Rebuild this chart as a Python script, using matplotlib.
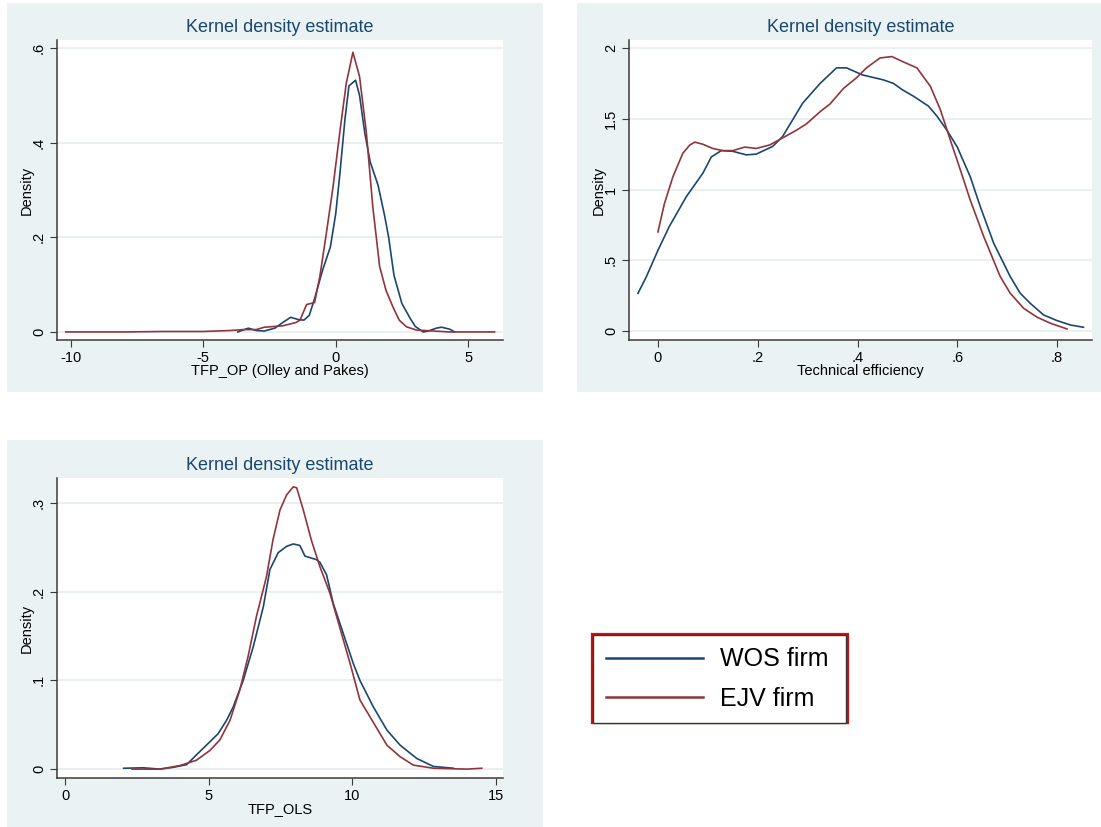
import matplotlib
matplotlib.use("Agg")
import matplotlib.pyplot as plt
from matplotlib.patches import Rectangle

plt.rcParams["font.family"] = ["Liberation Sans", "DejaVu Sans"]

NAVY = "#1a476f"
MAROON = "#90353b"
BG = "#eaf2f3"
GRID = "#e6eef0"
AXCOL = "#3a3a3a"

# TFP_OP (Olley and Pakes)
op_wos_x = [-3.7, -3.3, -3.0, -2.7, -2.3, -2.0, -1.7, -1.4, -1.2, -1.0, -0.8, -0.5, -0.2,
            0.0, 0.15, 0.35, 0.5, 0.75, 0.9, 1.1, 1.3, 1.6, 1.85, 2.0, 2.2, 2.5, 2.8,
            3.0, 3.3, 3.5, 3.8, 4.0, 4.3, 4.5]
op_wos_y = [0.0, 0.008, 0.003, 0.002, 0.008, 0.02, 0.031, 0.026, 0.025, 0.035, 0.07, 0.13, 0.18,
            0.25, 0.33, 0.45, 0.52, 0.532, 0.5, 0.42, 0.36, 0.31, 0.245, 0.2, 0.12, 0.06, 0.03,
            0.012, 0.0, 0.002, 0.008, 0.01, 0.006, 0.0]
op_ejv_x = [-10.2, -8.0, -6.5, -5.0, -4.0, -3.5, -3.0, -2.7, -2.0, -1.5, -1.35, -1.1, -0.8,
            -0.6, -0.35, -0.1, 0.15, 0.4, 0.65, 0.9, 1.16, 1.4, 1.66, 1.9, 2.16, 2.4, 2.67,
            3.05, 3.7, 4.3, 6.0]
op_ejv_y = [0.0, 0.0, 0.001, 0.001, 0.003, 0.005, 0.005, 0.01, 0.013, 0.02, 0.025, 0.058, 0.062,
            0.117, 0.21, 0.307, 0.42, 0.526, 0.591, 0.54, 0.42, 0.265, 0.138, 0.088, 0.053, 0.025, 0.011,
            0.004, 0.002, 0.0, 0.0]

# Technical efficiency
te_wos_x = [-0.04, -0.023, 0.0, 0.023, 0.057, 0.09, 0.107, 0.127, 0.15, 0.177, 0.197, 0.23,
            0.25, 0.29, 0.325, 0.358, 0.378, 0.41, 0.452, 0.472, 0.49, 0.512, 0.542, 0.559,
            0.579, 0.6, 0.626, 0.646, 0.673, 0.706, 0.726, 0.746, 0.773, 0.8, 0.827, 0.853]
te_wos_y = [0.266, 0.385, 0.57, 0.74, 0.95, 1.115, 1.23, 1.275, 1.27, 1.245, 1.25, 1.305,
            1.375, 1.61, 1.75, 1.86, 1.86, 1.81, 1.775, 1.75, 1.705, 1.66, 1.59, 1.52,
            1.42, 1.30, 1.09, 0.88, 0.62, 0.385, 0.267, 0.196, 0.113, 0.073, 0.042, 0.026]
te_ejv_x = [0.0, 0.013, 0.03, 0.05, 0.064, 0.074, 0.09, 0.11, 0.13, 0.15, 0.174, 0.197, 0.224,
            0.25, 0.278, 0.298, 0.325, 0.345, 0.372, 0.398, 0.418, 0.445, 0.469, 0.49, 0.519,
            0.546, 0.566, 0.586, 0.606, 0.626, 0.653, 0.686, 0.706, 0.733, 0.76, 0.787, 0.82]
te_ejv_y = [0.70, 0.9, 1.09, 1.257, 1.315, 1.335, 1.32, 1.29, 1.275, 1.275, 1.30, 1.29, 1.315,
            1.365, 1.42, 1.465, 1.55, 1.605, 1.715, 1.79, 1.86, 1.93, 1.94, 1.905, 1.86,
            1.73, 1.565, 1.35, 1.14, 0.925, 0.667, 0.385, 0.267, 0.16, 0.097, 0.054, 0.014]

# TFP_OLS
ols_wos_x = [2.04, 2.72, 3.3, 3.76, 4.23, 4.57, 4.92, 5.33, 5.62, 5.85, 6.2, 6.55, 6.9, 7.13,
             7.42, 7.71, 7.94, 8.17, 8.35, 8.75, 8.87, 9.1, 9.33, 9.68, 10.03, 10.26, 10.73,
             11.2, 11.66, 12.24, 12.82, 13.51]
ols_wos_y = [0.001, 0.0015, 0.0, 0.002, 0.005, 0.016, 0.027, 0.04, 0.055, 0.07, 0.1, 0.138, 0.183, 0.225,
             0.244, 0.251, 0.2537, 0.252, 0.24, 0.236, 0.233, 0.219, 0.187, 0.153, 0.119, 0.1, 0.07,
             0.044, 0.027, 0.012, 0.003, 0.001]
ols_ejv_x = [2.33, 3.3, 4.0, 4.57, 5.04, 5.39, 5.74, 6.08, 6.37, 6.66, 7.01, 7.24, 7.48, 7.71,
             7.94, 8.06, 8.29, 8.58, 8.87, 9.22, 9.45, 9.92, 10.26, 10.61, 11.2, 11.66, 12.12,
             12.82, 13.98, 14.5]
ols_ejv_y = [0.0, 0.0, 0.004, 0.01, 0.021, 0.033, 0.055, 0.089, 0.127, 0.172, 0.217, 0.259, 0.292, 0.309,
             0.318, 0.317, 0.292, 0.257, 0.228, 0.198, 0.172, 0.119, 0.078, 0.059, 0.027, 0.014, 0.0045,
             0.001, 0.0, 0.001]

W, H = 1101, 827


def px_rect(x0, y0, x1, y1):
    return [x0 / W, 1 - y1 / H, (x1 - x0) / W, (y1 - y0) / H]


def panel(fig, box, rect, wos, ejv, xlim, ylim, xticks, xlabels, yticks, ylabels, xlabel):
    fig.patches.append(Rectangle((box[0], box[1]), box[2], box[3], transform=fig.transFigure,
                                 facecolor=BG, edgecolor="none", zorder=-10))
    ax = fig.add_axes(rect)
    ax.set_facecolor("white")
    l1, = ax.plot(wos[0], wos[1], color=NAVY, lw=1.2, label="WOS firm")
    l2, = ax.plot(ejv[0], ejv[1], color=MAROON, lw=1.2, label="EJV firm")
    ax.set_xlim(*xlim)
    ax.set_ylim(*ylim)
    ax.set_xticks(xticks, xlabels)
    ax.set_yticks(yticks, ylabels)
    ax.tick_params(axis="y", labelrotation=90, length=5, color=AXCOL, labelsize=10.5, pad=3)
    ax.tick_params(axis="x", length=5, color=AXCOL, labelsize=10.5, pad=3)
    for lab in ax.get_yticklabels():
        lab.set_va("center")
    ax.grid(axis="y", color=GRID, lw=1.2)
    ax.set_axisbelow(True)
    for s in ("top", "right"):
        ax.spines[s].set_visible(False)
    for s in ("left", "bottom"):
        ax.spines[s].set_color(AXCOL)
        ax.spines[s].set_linewidth(1.1)
    ax.set_title("Kernel density estimate", color=NAVY, fontsize=13, pad=6)
    ax.set_xlabel(xlabel, fontsize=10.5, labelpad=-1)
    ax.set_ylabel("Density", fontsize=10.5, labelpad=-1.5)
    return l1, l2


def main():
    fig = plt.figure(figsize=(11.01, 8.27), dpi=100)

    panel(fig, px_rect(7, 3, 543, 392), px_rect(57, 40, 503, 340),
          (op_wos_x, op_wos_y), (op_ejv_x, op_ejv_y),
          (-10.53, 6.32), (-0.017, 0.617),
          [-10, -5, 0, 5], ["-10", "-5", "0", "5"],
          [0, 0.2, 0.4, 0.6], ["0", ".2", ".4", ".6"],
          "TFP_OP (Olley and Pakes)")

    panel(fig, px_rect(577, 3, 1101, 392), px_rect(629, 40, 1092, 340),
          (te_wos_x, te_wos_y), (te_ejv_x, te_ejv_y),
          (-0.058, 0.870), (-0.064, 2.057),
          [0, 0.2, 0.4, 0.6, 0.8], ["0", ".2", ".4", ".6", ".8"],
          [0, 0.5, 1, 1.5, 2], ["0", ".5", "1", "1.5", "2"],
          "Technical efficiency")

    l1, l2 = panel(fig, px_rect(7, 440, 543, 827), px_rect(57, 478, 503, 778),
                   (ols_wos_x, ols_wos_y), (ols_ejv_x, ols_ejv_y),
                   (-0.28, 15.24), (-0.010, 0.328),
                   [0, 5, 10, 15], ["0", "5", "10", "15"],
                   [0, 0.1, 0.2, 0.3], ["0", ".1", ".2", ".3"],
                   "TFP_OLS")

    lb = px_rect(593, 635, 846, 721)
    leg = fig.legend([l1, l2], ["WOS firm", "EJV firm"], loc="upper left",
                     bbox_to_anchor=lb, mode="expand", borderaxespad=0,
                     fontsize=18, handlelength=3.9, handletextpad=0.7,
                     labelspacing=0.6, borderpad=0.5, fancybox=False, framealpha=1)
    leg.get_frame().set_edgecolor("#333333")
    leg.get_frame().set_linewidth(1.0)
    for line in leg.get_lines():
        line.set_linewidth(1.8)
    fig.patches.append(Rectangle((592 / W, 1 - 723 / H), 256 / W, 89 / H, transform=fig.transFigure,
                                 facecolor="none", edgecolor="#cc1111", lw=1.6, zorder=5))

    fig.savefig("out.png", dpi=100, facecolor="white")


if __name__ == "__main__":
    main()
